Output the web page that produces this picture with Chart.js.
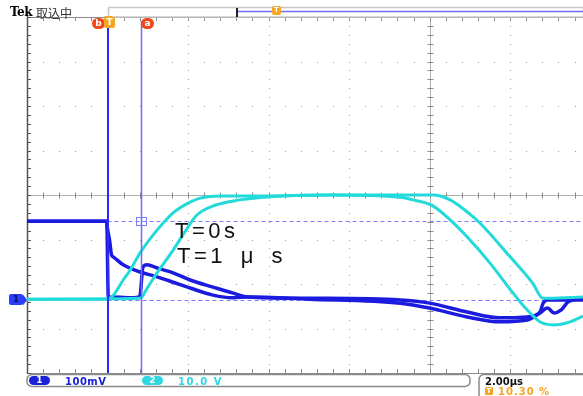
<!DOCTYPE html>
<html>
<head>
<meta charset="utf-8">
<script src="https://cdn.jsdelivr.net/npm/chart.js@4.4.0/dist/chart.umd.min.js"></script>
<style>
  body { margin: 0; background: #fff; }
  #wrap { position: relative; width: 583px; height: 396px; overflow: hidden; background: #fff; }
  #scope { position: absolute; left: 0; top: 0; }
  .lbl { position: absolute; white-space: nowrap; line-height: 1; }
  .pill { position: absolute; text-align: center; font: bold 9px "DejaVu Sans", sans-serif; line-height: 9px; }
</style>
</head>
<body>
<div id="wrap">
  <canvas id="scope" width="583" height="396"></canvas>

  <div class="lbl" style="left:10px;top:5px;font:bold 12px 'DejaVu Serif',serif;letter-spacing:-0.5px;">Tek</div>
  <div class="lbl" style="left:36px;top:4px;font:12px 'Noto Sans CJK JP',sans-serif;color:#333;">取込中</div>

  <div class="pill" style="left:92px;top:18px;width:13px;height:11px;line-height:11px;border-radius:6px;background:#f04a1a;color:#fff;">b</div>
  <div class="pill" style="left:104px;top:17px;width:11px;height:11px;line-height:11px;border-radius:2px;background:#f5a623;color:#fff;">T</div>
  <div class="pill" style="left:141px;top:18px;width:13px;height:11px;line-height:11px;border-radius:6px;background:#f04a1a;color:#fff;">a</div>
  <div class="pill" style="left:272px;top:6px;width:9px;height:9px;line-height:9px;border-radius:2px;background:#f5a623;color:#fff;font-size:7px;">T</div>

  <div class="pill" style="left:9px;top:294px;width:14px;height:11px;line-height:11px;border-radius:2px;background:#2a3cff;color:#0a1060;">1</div>

  <div class="lbl" style="left:175px;top:218px;font:22px 'Liberation Sans',Arial,sans-serif;letter-spacing:3.5px;color:#111;">T=0s</div>
  <div class="lbl" style="left:177px;top:243px;font:22px 'Liberation Sans',Arial,sans-serif;letter-spacing:3.5px;word-spacing:5px;color:#111;">T=1 μ s</div>

  <div class="pill" style="left:29px;top:376px;width:21px;height:9px;border-radius:5px;background:#1a22d8;color:#fff;">1</div>
  <div class="lbl" style="left:65px;top:376px;font:bold 10px 'DejaVu Sans',sans-serif;letter-spacing:0.5px;color:#1a22d8;">100mV</div>
  <div class="pill" style="left:142px;top:376px;width:21px;height:9px;border-radius:5px;background:#2ed8e0;color:#fff;">2</div>
  <div class="lbl" style="left:178px;top:376px;font:bold 10px 'DejaVu Sans',sans-serif;letter-spacing:1.5px;color:#2ed8e0;">10.0 V</div>

  <div class="lbl" style="left:485px;top:376px;font:bold 10px 'DejaVu Sans',sans-serif;color:#111;">2.00µs</div>
  <div class="pill" style="left:485px;top:387px;width:8px;height:8px;line-height:8px;border-radius:1px;background:#f5a623;color:#fff;font-size:7px;">T</div>
  <div class="lbl" style="left:498px;top:386px;font:bold 10px 'DejaVu Sans',sans-serif;letter-spacing:1px;color:#f5a623;">10.30 %</div>
</div>

<script>
// time axis in µs (2 µs/div), trigger at 0
const timeTicks = [-2, 0, 2, 4, 6, 8, 10];
// ch1 in mV (100 mV/div), ground at 0
const ch1Ticks = [-164, -64, 36, 136, 236, 336, 436, 536, 636];

// CH2 (10 V/div), shot at T=0s
const ch2ShotA_t = [-2, -0.01, 0.11, 0.39, 0.56, 0.81, 1.23, 1.63, 2.05, 2.30, 2.80, 3.79, 5.53, 7.27, 7.59, 8.09, 8.51, 8.93, 9.50, 10.07, 10.42, 10.74, 11.07, 11.49, 11.81];
const ch2ShotA_V = [0.2, 0.2, 0.7, 4.5, 6.7, 10.6, 15.7, 19.6, 22.0, 22.9, 23.4, 23.4, 23.6, 23.1, 22.5, 21.1, 18.0, 14.2, 8.3, 1.6, -2.2, -4.9, -5.6, -4.9, -3.6];

// CH2, shot at T=1µs
const ch2ShotB_t = [-2, 0.81, 1.0, 1.23, 1.63, 1.92, 2.22, 2.67, 3.29, 3.86, 5.5, 8.09, 8.51, 9.0, 9.25, 10.0, 10.56, 10.81, 11.0, 11.81];
const ch2ShotB_V = [0.2, 0.4, 2.9, 6.1, 11.2, 15.3, 19.1, 21.3, 22.5, 23.1, 23.6, 23.6, 22.5, 19.3, 17.3, 9.7, 3.8, 0.4, 0.4, 0.7];

// CH1 (100 mV/div), shot at T=0s
const ch1ShotA_t = [-2, -0.02, 0.0, 0.05, 0.1, 0.14, 0.39, 0.81, 1.23, 1.63, 2.05, 2.62, 3.12, 3.5, 5.0, 7.27, 8.0, 8.93, 9.75, 10.42, 10.74, 10.93, 11.09, 11.27, 11.44, 11.81];
const ch1ShotA_mV = [177, 177, 160, 135, 101, 97, 79, 63, 52, 40, 27, 11, 5, 7, 2, -7, -18, -38, -49, -45, -29, -18, -29, -22, -4, 4];

// CH1, shot at T=1µs
const ch1ShotB_t = [-2, -0.02, 0.02, 0.1, 0.5, 0.8, 0.82, 0.88, 0.98, 1.23, 1.63, 2.05, 2.62, 3.1, 3.48, 5.0, 7.27, 8.0, 8.93, 9.75, 10.42, 10.74, 10.82, 10.93, 11.81];
const ch1ShotB_mV = [177, 177, 5, 7, 5, 7, 18, 74, 79, 72, 61, 45, 29, 16, 7, 4, 0, -7, -27, -40, -38, -27, -7, 0, 0];

// cursors
const cursorTimes = [0, 0.83];
const cursorLevels = [177, 0];

const CH1_COLOR = "#1b1be0";
const CH2_COLOR = "#22dada";

function toPoints(ts, vs) {
  return ts.map((t, i) => ({ x: t, y: vs[i] }));
}

const scopeDecor = {
  id: "scopeDecor",
  beforeDatasetsDraw(chart) {
    const ctx = chart.ctx;
    const { left, right, top, bottom } = chart.chartArea;
    const xs = chart.scales.x;
    const ys = chart.scales.y;
    const divW = xs.getPixelForValue(2) - xs.getPixelForValue(0);
    const divH = ys.getPixelForValue(36) - ys.getPixelForValue(136);
    const x0 = xs.getPixelForValue(-2);
    ctx.save();

    // dotted graticule
    ctx.fillStyle = "#9a9a9a";
    timeTicks.forEach((t) => {
      if (t === -2 || t === 8) return;
      const px = Math.round(xs.getPixelForValue(t));
      for (let k = 0; k <= 40; k++) ctx.fillRect(px, Math.round(top + (k * divH) / 5), 1, 1);
    });
    ch1Ticks.forEach((v) => {
      if (v === -164 || v === 636 || v === 236) return;
      const py = Math.round(ys.getPixelForValue(v));
      for (let k = 0; k <= 40; k++) {
        const px = Math.round(x0 + (k * divW) / 5);
        if (px > right) break;
        ctx.fillRect(px, py, 1, 1);
      }
    });

    // center cross lines with minor ticks
    const cx = Math.round(xs.getPixelForValue(8)) + 0.5;
    const cy = Math.round(ys.getPixelForValue(236)) + 0.5;
    ctx.strokeStyle = "#b0b0b0";
    ctx.lineWidth = 1;
    ctx.beginPath();
    ctx.moveTo(cx, top); ctx.lineTo(cx, bottom);
    ctx.moveTo(left, cy); ctx.lineTo(right, cy);
    ctx.stroke();
    ctx.strokeStyle = "#8a8a8a";
    ctx.beginPath();
    for (let k = 0; k <= 40; k++) {
      const py = Math.round(top + (k * divH) / 5) + 0.5;
      ctx.moveTo(cx - 3, py); ctx.lineTo(cx + 3, py);
    }
    for (let k = 0; k <= 40; k++) {
      const px = Math.round(x0 + (k * divW) / 5) + 0.5;
      if (px > right) break;
      ctx.moveTo(px, cy - 3); ctx.lineTo(px, cy + 3);
      ctx.moveTo(px, top); ctx.lineTo(px, top + 4);
      ctx.moveTo(px, bottom); ctx.lineTo(px, bottom - 4);
    }
    ctx.stroke();

    // frame: top and bottom edges, dark left edge
    ctx.strokeStyle = "#8a8a8a";
    ctx.beginPath();
    ctx.moveTo(left, top + 0.5); ctx.lineTo(right, top + 0.5);
    ctx.moveTo(left, bottom + 0.5); ctx.lineTo(right, bottom + 0.5);
    ctx.stroke();
    ctx.strokeStyle = "#555";
    ctx.lineWidth = 1.5;
    ctx.beginPath();
    ctx.moveTo(left + 0.5, top - 4); ctx.lineTo(left + 0.5, bottom + 1);
    ctx.stroke();
    ctx.lineWidth = 1;
    ctx.beginPath();
    for (let k = 0; k <= 40; k++) {
      const py = Math.round(top + (k * divH) / 5) + 0.5;
      ctx.moveTo(left, py); ctx.lineTo(left + 4, py);
    }
    ctx.stroke();

    // horizontal dashed cursors
    ctx.strokeStyle = "#7c7cff";
    ctx.setLineDash([4, 3]);
    cursorLevels.forEach((v) => {
      const py = Math.round(ys.getPixelForValue(v)) + 0.5;
      ctx.beginPath();
      ctx.moveTo(xs.getPixelForValue(cursorTimes[0]), py);
      ctx.lineTo(right, py);
      ctx.stroke();
    });
    ctx.setLineDash([]);

    // record bar on top
    const rx = Math.round(xs.getPixelForValue(0));
    const markX = 237;
    ctx.strokeStyle = "#c8c8c8";
    ctx.lineWidth = 1.5;
    ctx.strokeRect(rx + 0.5, 7.5, right - rx, top - 7.5);
    ctx.strokeStyle = "#6e6eff";
    ctx.lineWidth = 1.5;
    ctx.beginPath();
    ctx.moveTo(markX, 11.5); ctx.lineTo(right, 11.5);
    ctx.stroke();
    ctx.strokeStyle = "#222";
    ctx.lineWidth = 2;
    ctx.beginPath();
    ctx.moveTo(markX, 8); ctx.lineTo(markX, 17);
    ctx.stroke();
    ctx.fillStyle = "#f5a623";
    ctx.beginPath();
    ctx.moveTo(rx - 4, top - 1); ctx.lineTo(rx + 5, top - 1); ctx.lineTo(rx + 0.5, top + 4);
    ctx.fill();

    // bottom readout boxes
    ctx.strokeStyle = "#8a8a8a";
    ctx.lineWidth = 1.5;
    ctx.beginPath();
    ctx.roundRect(left, 374.5, 443, 12, 5);
    ctx.stroke();
    ctx.beginPath();
    ctx.roundRect(479, 374.5, 120, 30, 5);
    ctx.stroke();

    // ch1 ground marker arrow tip
    const gy = ys.getPixelForValue(0);
    ctx.fillStyle = "#2a3cff";
    ctx.beginPath();
    ctx.moveTo(23, gy - 5.5); ctx.lineTo(27, gy); ctx.lineTo(23, gy + 5.5);
    ctx.fill();
    ctx.restore();
  },
  afterDatasetsDraw(chart) {
    const ctx = chart.ctx;
    const { top, bottom } = chart.chartArea;
    const xs = chart.scales.x;
    const ys = chart.scales.y;
    ctx.save();
    const ax = Math.round(xs.getPixelForValue(cursorTimes[0]));
    const bx = Math.round(xs.getPixelForValue(cursorTimes[1])) + 0.5;
    ctx.strokeStyle = "#2a2aff";
    ctx.lineWidth = 2;
    ctx.beginPath();
    ctx.moveTo(ax, top + 4); ctx.lineTo(ax, bottom);
    ctx.stroke();
    ctx.strokeStyle = "#6c6cff";
    ctx.lineWidth = 1.5;
    ctx.beginPath();
    ctx.moveTo(bx, top + 4); ctx.lineTo(bx, bottom);
    ctx.stroke();
    // cursor crossing box
    const by = Math.round(ys.getPixelForValue(cursorLevels[0])) + 0.5;
    ctx.strokeStyle = "#7c7cff";
    ctx.lineWidth = 1;
    ctx.strokeRect(bx - 5, by - 4, 10, 8);
    ctx.restore();
  }
};

const lineStyle = {
  borderWidth: 3,
  pointRadius: 0,
  fill: false,
  cubicInterpolationMode: "monotone"
};

new Chart(document.getElementById("scope"), {
  type: "line",
  data: {
    datasets: [
      { ...lineStyle, label: "CH2 T=0s", data: toPoints(ch2ShotA_t, ch2ShotA_V), borderColor: CH2_COLOR, yAxisID: "y2" },
      { ...lineStyle, label: "CH2 T=1µs", data: toPoints(ch2ShotB_t, ch2ShotB_V), borderColor: CH2_COLOR, yAxisID: "y2" },
      { ...lineStyle, borderWidth: 3.5, label: "CH1 T=0s", data: toPoints(ch1ShotA_t, ch1ShotA_mV), borderColor: CH1_COLOR, yAxisID: "y" },
      { ...lineStyle, borderWidth: 3.5, label: "CH1 T=1µs", data: toPoints(ch1ShotB_t, ch1ShotB_mV), borderColor: CH1_COLOR, yAxisID: "y" }
    ]
  },
  options: {
    responsive: false,
    animation: false,
    layout: { padding: { left: 27, top: 17, right: 0, bottom: 23 } },
    plugins: { legend: { display: false }, tooltip: { enabled: false } },
    scales: {
      x: {
        type: "linear",
        display: false,
        min: -2,
        max: 11.81,
        afterBuildTicks: (scale) => { scale.ticks = timeTicks.map((v) => ({ value: v })); }
      },
      y: {
        display: false,
        min: -164,
        max: 636,
        afterBuildTicks: (scale) => { scale.ticks = ch1Ticks.map((v) => ({ value: v })); }
      },
      y2: {
        display: false,
        min: -16.4,
        max: 63.6
      }
    }
  },
  plugins: [scopeDecor]
});
</script>
</body>
</html>
